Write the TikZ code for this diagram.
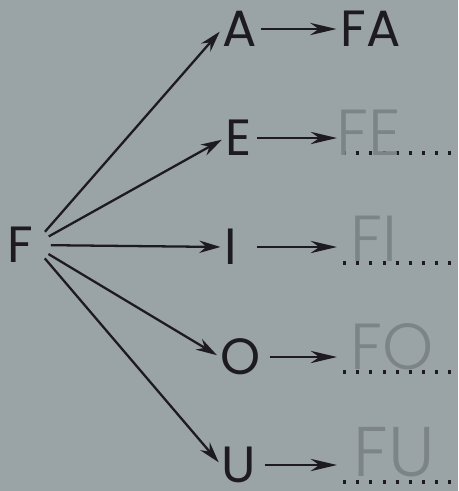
\documentclass[tikz,border=0pt]{standalone}
\usepackage{xcolor}
\usepackage{fontspec}
\setmainfont{Poppins}
\newfontfamily\pencilfont{Poppins Light}
\usepackage{tikz}
\usetikzlibrary{arrows.meta}

\definecolor{paper}{RGB}{154,163,165}
\definecolor{ink}{RGB}{30,27,32}
\definecolor{pencil}{RGB}{124,132,135}

\tikzset{
  letter/.style={text=ink, inner sep=0pt, anchor=west, font=\fontsize{29}{29}\selectfont},
  answer/.style={text=pencil, inner sep=0pt, anchor=south west, font=\pencilfont\fontsize{37}{37}\selectfont},
  fan/.style={draw=ink, line width=1.3pt, -{Stealth[length=12pt,width=7pt]}},
  link/.style={draw=ink, line width=1.4pt, -{Stealth[length=15pt,width=7pt]}},
  blank/.style={draw=ink, line width=1.8pt, dash pattern=on 1.7pt off 5.8pt}
}

\begin{document}
\begin{tikzpicture}[x=0.02cm,y=-0.02cm]
				\fill[paper] (0,0) rectangle (458,491);
				\useasboundingbox (0,0) rectangle (458,491);

				\node[letter] (F) at (7,245) {F};
				\node[letter] (A) at (222,29) {A};
				\node[letter] (E) at (225,138) {E};
				\node[letter] (I) at (224,247) {I};
				\node[letter] (O) at (220,357) {O};
				\node[letter] (U) at (221,465) {U};
				\node[letter] (FA) at (340,29) {FA};

				\draw[fan, shorten <=10pt, shorten >=2pt] (F.east) -- (A.west);
				\draw[fan, shorten <=10pt, shorten >=2pt] (F.east) -- (E.west);
				\draw[fan, shorten <=10pt, shorten >=2pt] (F.east) -- (I.west);
				\draw[fan, shorten <=10pt, shorten >=2pt] (F.east) -- (O.west);
				\draw[fan, shorten <=10pt, shorten >=2pt] (F.east) -- (U.west);

				\coordinate (eE) at (337,139);
				\coordinate (eI) at (337,249);
				\coordinate (eO) at (337,359);
				\coordinate (eU) at (337,469);
				\draw[link, shorten <=2pt, shorten >=2pt] (A.east) -- (FA.west);
				\draw[link, shorten <=3pt] (E.east) -- (E.east -| eE);
				\draw[link, shorten <=11pt] (I.east) -- (I.east -| eI);
				\draw[link, shorten <=5pt] (O.east) -- (O.east -| eO);
				\draw[link, shorten <=5pt] (U.east) -- (U.east -| eU);

				\coordinate (dE) at (343,153);
				\coordinate (dI) at (343,263);
				\coordinate (dO) at (343,372);
				\coordinate (dU) at (343,482);
				\draw[blank] (dE) -- ++(115,0);
				\draw[blank] (dI) -- ++(115,0);
				\draw[blank] (dO) -- ++(115,0);
				\draw[blank] (dU) -- ++(115,0);

				\node[answer] (hE) at (336,156) {FE};
				\node[answer] (hI) at (350,262) {FI};
				\node[answer] (hO) at (350,370) {FO};
				\node[answer, font=\pencilfont\fontsize{40}{40}\selectfont] (hU) at (353,477) {FU};
\end{tikzpicture}
\end{document}
